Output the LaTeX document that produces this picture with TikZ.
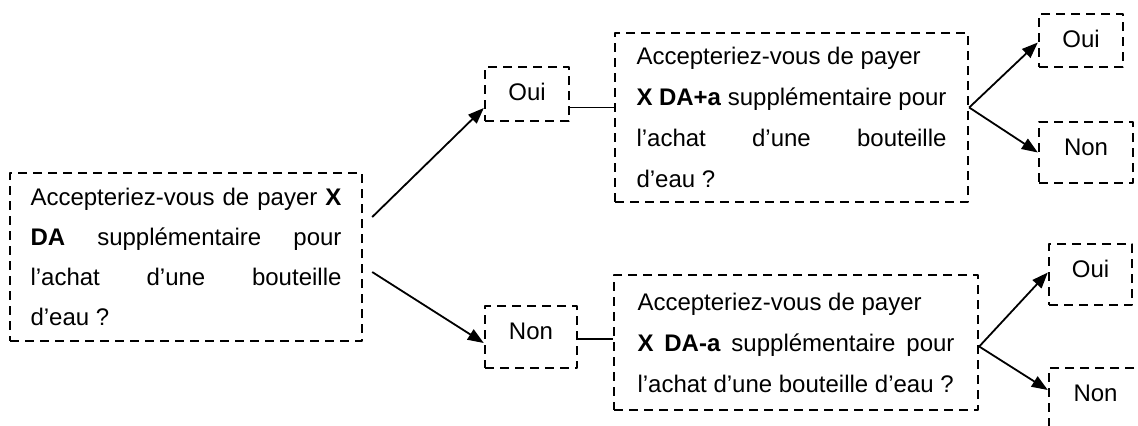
\documentclass[tikz,border=0pt]{standalone}
\usepackage{fontspec}
\setmainfont{Liberation Sans}
\usepackage{tikz}
\usetikzlibrary{arrows.meta}
\tolerance=10000
\hyphenpenalty=10000
\exhyphenpenalty=10000
\tikzset{
  every picture/.style={line join=round, >={Triangle[length=8pt,width=6pt]}},
  boite/.style={draw, line width=1.2pt, dash pattern=on 4.5pt off 3pt},
  question/.style={boite, align=justify, inner ysep=0pt, font=\fontsize{12}{20}\selectfont},
  reponse/.style={boite, inner sep=0pt, text height=16.8pt, font=\fontsize{12}{14}\selectfont},
  fleche/.style={->, line width=0.9pt},
  trait/.style={line width=0.9pt},
}
\begin{document}
\begin{tikzpicture}[x=0.5pt,y=-0.5pt]
\useasboundingbox (0,0) rectangle (1138,425);
\clip (0,0) rectangle (1138,425);
% premiere question
\node[question, text width=155.5pt, inner xsep=10.25pt, minimum height=84pt] (q1) at (186,257)
  {Accepteriez-vous de payer \textbf{X}\linebreak \textbf{DA} supplémentaire pour\linebreak l’achat d’une bouteille\linebreak d’eau ?};
\node[reponse, minimum width=42pt, text depth=10.2pt] (oui1) at (527,94) {Oui};
\node[reponse, minimum width=46pt, text depth=14.2pt] (non1) at (531,337) {Non};
% deuxieme question
\node[question, text width=155pt, inner xsep=10.75pt, minimum height=84.5pt, font=\fontsize{12}{20.5}\selectfont] (q2) at (791.5,117.5)
  {Accepteriez-vous de payer\newline \textbf{X DA+a} supplémentaire pour\linebreak l’achat d’une bouteille\linebreak d’eau ?};
\node[question, text width=158.5pt, inner xsep=11.75pt, minimum height=67.5pt, font=\fontsize{12}{20.5}\selectfont] (q3) at (796,342.5)
  {Accepteriez-vous de payer\newline \textbf{X DA-a} supplémentaire pour\linebreak l’achat d’une bouteille d’eau ?};
\node[reponse, minimum width=42pt, text depth=9.7pt] (oui2) at (1081,40.5) {Oui};
\node[reponse, minimum width=47pt, text depth=13.7pt] (non2) at (1086,152.5) {Non};
\node[reponse, minimum width=41.5pt, text depth=13.7pt] (oui3) at (1090.5,274.5) {Oui};
\node[reponse, minimum width=46.5pt, text depth=15.2pt] (non3) at (1095.5,400) {Non};
% liens
\coordinate (j1) at ([yshift=-6.75pt]oui1.east);
\coordinate (j2) at ([yshift=-1pt]non1.east);
\draw[fleche] ([xshift=4.5pt,yshift=20pt]q1.east) -- ([yshift=-7pt]oui1.west);
\draw[fleche] ([xshift=4.5pt,yshift=-7.5pt]q1.east) -- ([yshift=-3pt]non1.west);
\draw[trait] (j1) -- (j1 -| q2.west);
\draw[trait] (j2) -- (j2 -| q3.west);
\draw[fleche] ([yshift=5pt]q2.east) -- ([yshift=-1pt]oui2.west);
\draw[fleche] ([yshift=5pt]q2.east) -- (non2.west);
\draw[fleche] ([yshift=-2pt]q3.east) -- ([yshift=1pt]oui3.west);
\draw[fleche] ([yshift=-2pt]q3.east) -- ([yshift=5pt]non3.west);
\end{tikzpicture}
\end{document}
